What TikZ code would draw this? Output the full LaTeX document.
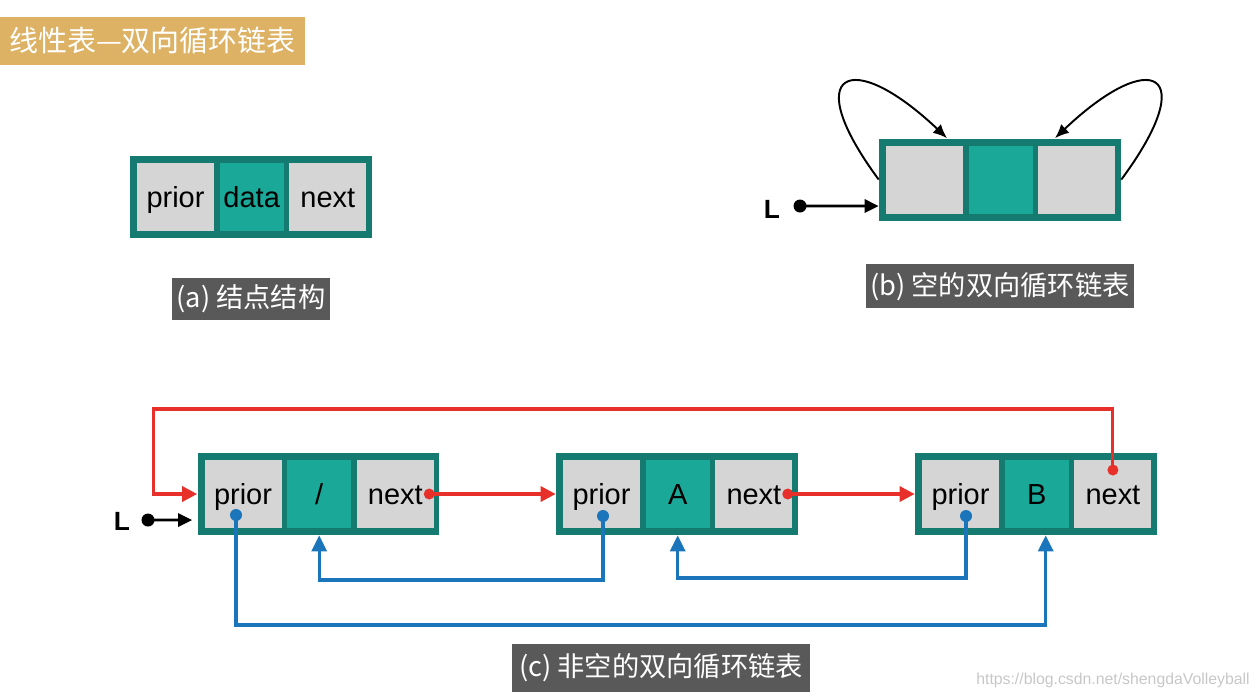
\documentclass[tikz,border=0pt]{standalone}
\usepackage{fontspec}
\setmainfont{Liberation Sans}
\newfontfamily\cjk{Noto Sans CJK SC}
\usepackage{xcolor}
\usetikzlibrary{arrows.meta,calc,positioning}
\definecolor{tealdark}{HTML}{157A70}
\definecolor{tealmid}{HTML}{1AA898}
\definecolor{cellgray}{HTML}{D5D5D5}
\definecolor{ptrred}{HTML}{E8302A}
\definecolor{ptrblue}{HTML}{1B75BB}
\definecolor{capgray}{HTML}{595959}
\definecolor{titlegold}{HTML}{DDB265}

\begin{document}
\begin{tikzpicture}[
  x=0.02cm, y=-0.02cm, >=latex,
  frame/.style={fill=tealdark, minimum width=4.84cm, minimum height=1.64cm, inner sep=0pt},
  gcell/.style={fill=cellgray, minimum width=1.54cm, minimum height=1.36cm, inner sep=0pt,
                text height=12.5pt, text depth=0pt, font=\fontsize{16.5}{18}\selectfont},
  tcell/.style={gcell, fill=tealmid, minimum width=1.28cm},
  caption/.style={fill=capgray, text=white, inner sep=0pt, font=\cjk\fontsize{15.5}{18}\selectfont},
  headline/.style={fill=titlegold, text=white, inner sep=0pt, font=\cjk\fontsize{16.5}{18}\selectfont},
  rdot/.style={circle, fill=ptrred, inner sep=0pt, minimum size=0.22cm},
  bdot/.style={circle, fill=ptrblue, inner sep=0pt, minimum size=0.24cm},
  kdot/.style={circle, fill=black, inner sep=0pt, minimum size=0.26cm},
  rline/.style={ptrred, line width=1.8pt, -{Triangle[length=0.3cm, width=0.3cm]}},
  bline/.style={ptrblue, line width=1.8pt, -{Triangle[length=0.32cm, width=0.3cm]}},
  kline/.style={line width=1.6pt, -{Triangle[length=0.28cm, width=0.26cm]}},
  curve/.style={line width=1.1pt, -{Latex[length=0.28cm, width=0.24cm]}},
  lname/.style={font=\bfseries\fontsize{15}{17}\selectfont},
  url/.style={text=black!22, font=\fontsize{9}{10}\selectfont},
]
\useasboundingbox (0,0) rectangle (1256,698);

\node[headline, minimum width=6.1cm, minimum height=0.96cm] (title) at (152.5,41) {线性表—双向循环链表};

% (a)
\node[frame] (oa) at (251,196.5) {};
\node[gcell, right=0.14cm of oa.west] (pa) {prior};
\node[tcell, right=0.1cm of pa] (da) {data};
\node[gcell, right=0.1cm of da] (na) {next};
\node[caption, minimum width=3.16cm, minimum height=0.84cm, below=0.8cm of oa] (capa) {(a) 结点结构};

% (b)
\node[frame] (ob) at (1000,179.5) {};
\node[gcell, right=0.14cm of ob.west] (pb) {};
\node[tcell, right=0.1cm of pb] (db) {};
\node[gcell, right=0.1cm of db] (nb) {};
\node[caption, minimum width=5.38cm, minimum height=0.88cm, below=0.86cm of ob] (capb) {(b) 空的双向循环链表};
\node[lname] (Lb) at (772,209) {L};
\node[kdot] (kb) at (800,206) {};
\draw[kline] (kb.center) -- ([yshift=-0.53cm]ob.west);
\draw[curve] (ob.west) .. controls +(-80,-108) and +(-97,-92) .. ([xshift=-1.06cm]ob.north);
\draw[curve] (ob.east) .. controls +(80,-108) and +(97,-92) .. ([xshift=1.1cm]ob.north);

% (c)
\node[frame] (o1) at (318.5,494) {};
\node[gcell, right=0.14cm of o1.west] (p1) {prior};
\node[tcell, right=0.1cm of p1] (d1) {/};
\node[gcell, right=0.1cm of d1] (n1) {next};

\node[frame] (o2) at (677,494) {};
\node[gcell, right=0.14cm of o2.west] (p2) {prior};
\node[tcell, right=0.1cm of p2] (d2) {A};
\node[gcell, right=0.1cm of d2] (n2) {next};

\node[frame] (o3) at (1036,494) {};
\node[gcell, right=0.14cm of o3.west] (p3) {prior};
\node[tcell, right=0.1cm of p3] (d3) {B};
\node[gcell, right=0.1cm of d3] (n3) {next};

\node[lname] (Lc) at (122,521) {L};
\node[kdot] (kc) at (148,520) {};
\draw[kline] (kc.center) -- ([xshift=-0.1cm, yshift=-0.52cm]o1.west);

\node[rdot] (r1) at ([xshift=-0.1cm]n1.east) {};
\node[rdot] (r2) at ([xshift=-0.1cm]n2.east) {};
\node[rdot] (r3) at ([yshift=0.48cm]n3.center) {};
\draw[rline] (r1.center) -- (o2.west);
\draw[rline] (r2.center) -- (o3.west);
\draw[rline] (r3.center) -- ++(0,-61) -| ([xshift=-0.88cm]o1.west) -- (o1.west);

\node[bdot] (b1) at ([xshift=-0.14cm, yshift=-0.42cm]p1.center) {};
\node[bdot] (b2) at ([xshift=0.03cm, yshift=-0.44cm]p2.center) {};
\node[bdot] (b3) at ([xshift=0.11cm, yshift=-0.44cm]p3.center) {};
\draw[bline] (b1.center) -- ++(0,110) -| ($(d3|-o3.south)+(9,0)$);
\draw[bline] (b2.center) -- ++(0,64) -| (d1|-o1.south);
\draw[bline] (b3.center) -- ++(0,62) -| (d2|-o2.south);

\node[caption, minimum width=5.96cm, minimum height=0.96cm] (capc) at (661,668) {(c) 非空的双向循环链表};
\node[url] (link) at (1113,680) {https://blog.csdn.net/shengdaVolleyball};
\end{tikzpicture}
\end{document}
